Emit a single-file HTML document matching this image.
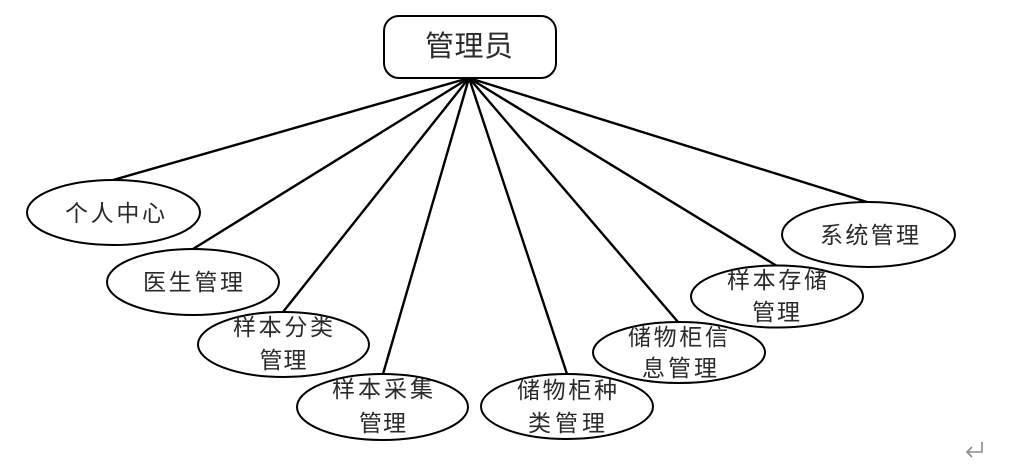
<!DOCTYPE html>
<html>
<head>
<meta charset="utf-8">
<style>
html,body{margin:0;padding:0;background:#fff;}
svg{display:block;}
text{font-family:"Liberation Sans","Noto Sans CJK SC","WenQuanYi Zen Hei",sans-serif;fill:#2a2a2a;}
</style>
</head>
<body>
<svg width="1034" height="474" viewBox="0 0 1034 474" xmlns="http://www.w3.org/2000/svg">
<g stroke="#000" stroke-width="2.4" fill="none">
<line x1="469" y1="78" x2="113" y2="180"/>
<line x1="469" y1="78" x2="193" y2="249"/>
<line x1="469" y1="78" x2="283" y2="312"/>
<line x1="469" y1="78" x2="383" y2="374"/>
<line x1="469" y1="78" x2="567" y2="374"/>
<line x1="469" y1="78" x2="678" y2="322"/>
<line x1="469" y1="78" x2="777" y2="266"/>
<line x1="469" y1="78" x2="867" y2="202"/>
</g>
<g fill="#fff" stroke="#000" stroke-width="2">
<rect x="384" y="16" width="172" height="62" rx="15" ry="15"/>
<ellipse cx="113.5" cy="212.5" rx="86.5" ry="32.5"/>
<ellipse cx="193" cy="282" rx="86" ry="33"/>
<ellipse cx="283.5" cy="344.5" rx="85.5" ry="32.5"/>
<ellipse cx="382.5" cy="407" rx="85.5" ry="33"/>
<ellipse cx="567" cy="406.5" rx="86" ry="32.5"/>
<ellipse cx="679" cy="352.5" rx="86" ry="30.5"/>
<ellipse cx="777" cy="296.5" rx="86" ry="31"/>
<ellipse cx="868.5" cy="234.5" rx="86.5" ry="32.5"/>
</g>
<g text-anchor="middle" dominant-baseline="central" font-size="23">
<text x="469" y="47" font-size="29" textLength="88" lengthAdjust="spacing">管理员</text>
<text x="115" y="213" textLength="100" lengthAdjust="spacing">个人中心</text>
<text x="193" y="282" textLength="100" lengthAdjust="spacing">医生管理</text>
<text x="283" y="327" textLength="100" lengthAdjust="spacing">样本分类</text>
<text x="283" y="360" textLength="47" lengthAdjust="spacing">管理</text>
<text x="382.5" y="389" textLength="101" lengthAdjust="spacing">样本采集</text>
<text x="382.5" y="423" textLength="47" lengthAdjust="spacing">管理</text>
<text x="567" y="390" textLength="100" lengthAdjust="spacing">储物柜种</text>
<text x="566.5" y="423" textLength="77" lengthAdjust="spacing">类管理</text>
<text x="678" y="337" textLength="100" lengthAdjust="spacing">储物柜信</text>
<text x="679.5" y="368" textLength="75" lengthAdjust="spacing">息管理</text>
<text x="777" y="280" textLength="100" lengthAdjust="spacing">样本存储</text>
<text x="776" y="312" textLength="48" lengthAdjust="spacing">管理</text>
<text x="869.5" y="235" textLength="99" lengthAdjust="spacing">系统管理</text>
</g>
<g stroke="#8a8a8a" stroke-width="1.6" fill="none">
<polyline points="982,442 982,452 967,452"/>
<polyline points="972,447 967,452 972,457"/>
</g>
</svg>
</body>
</html>
